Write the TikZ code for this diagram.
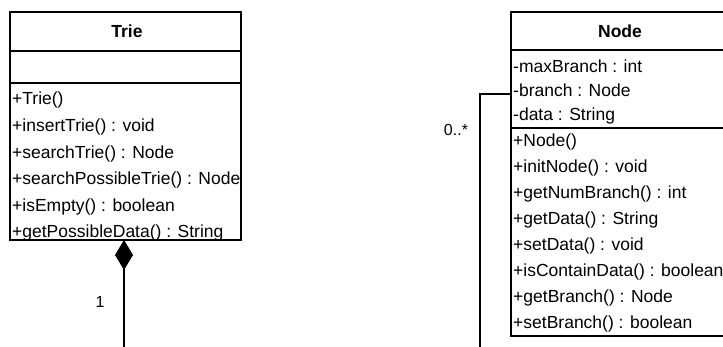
\documentclass[tikz,border=0pt]{standalone}
\usepackage{fontspec}
\setmainfont{Liberation Sans}
\usetikzlibrary{arrows.meta}
\begin{document}
\begin{tikzpicture}[x=1pt,y=-1pt,
  box/.style={draw, line width=1.4pt, inner sep=0pt, outer sep=0pt},
  sep/.style={line width=1.4pt},
  member/.style={anchor=base west, inner sep=0pt, font=\fontsize{17.5}{20}\selectfont},
  title/.style={inner sep=0pt, font=\fontsize{17.5}{20}\selectfont\bfseries},
  mult/.style={inner sep=0pt, font=\fontsize{16}{18}\selectfont},
  link/.style={line width=1.3pt}]
\useasboundingbox (0,0) rectangle (723,347);

% Trie class
\node[box, minimum width=231pt, minimum height=228pt, anchor=north west] (trie) at (10,12) {};
\draw[sep] (10,51) -- (241,51);
\draw[sep] (10,83) -- (241,83);
\node[title] (trieT) at (127,31) {Trie};
\node[member] (t1) at (12,105) {+Trie()};
\node[member] (t2) at (12,131.6) {+insertTrie() : void};
\node[member] (t3) at (12,158.2) {+searchTrie() : Node};
\node[member] (t4) at (12,184.8) {+searchPossibleTrie() : Node};
\node[member] (t5) at (12,211.4) {+isEmpty() : boolean};
\node[member] (t6) at (12,238) {+getPossibleData() : String};

% Node class
\node[box, minimum width=218pt, minimum height=324pt, anchor=north west] (node) at (511,12) {};
\draw[sep] (511,50) -- (729,50);
\draw[sep] (511,128) -- (729,128);
\node[title] (nodeT) at (620,31) {Node};
\node[member] (a1) at (513,73) {-maxBranch : int};
\node[member] (a2) at (513,97) {-branch : Node};
\node[member] (a3) at (513,121) {-data : String};
\node[member] (m1) at (513,147) {+Node()};
\node[member] (m2) at (513,172.9) {+initNode() : void};
\node[member] (m3) at (513,198.8) {+getNumBranch() : int};
\node[member] (m4) at (513,224.7) {+getData() : String};
\node[member] (m5) at (513,250.6) {+setData() : void};
\node[member] (m6) at (513,276.5) {+isContainData() : boolean};
\node[member] (m7) at (513,302.4) {+getBranch() : Node};
\node[member] (m8) at (513,328.3) {+setBranch() : boolean};

% connectors
\coordinate (tdia) at (124,240);
\coordinate (tend) at (124,352);
\coordinate (nattach) at (511,94);
\coordinate (ncorner) at (480,94);
\coordinate (nend) at (480,352);
\draw[link, {Diamond[length=30pt,width=18pt,fill=black]}-] (tdia) -- (tend);
\draw[link] (nattach) -- (ncorner) -- (nend);

\node[mult] (one) at (100,302) {1};
\node[mult] (many) at (456,130) {0..*};
\end{tikzpicture}
\end{document}
